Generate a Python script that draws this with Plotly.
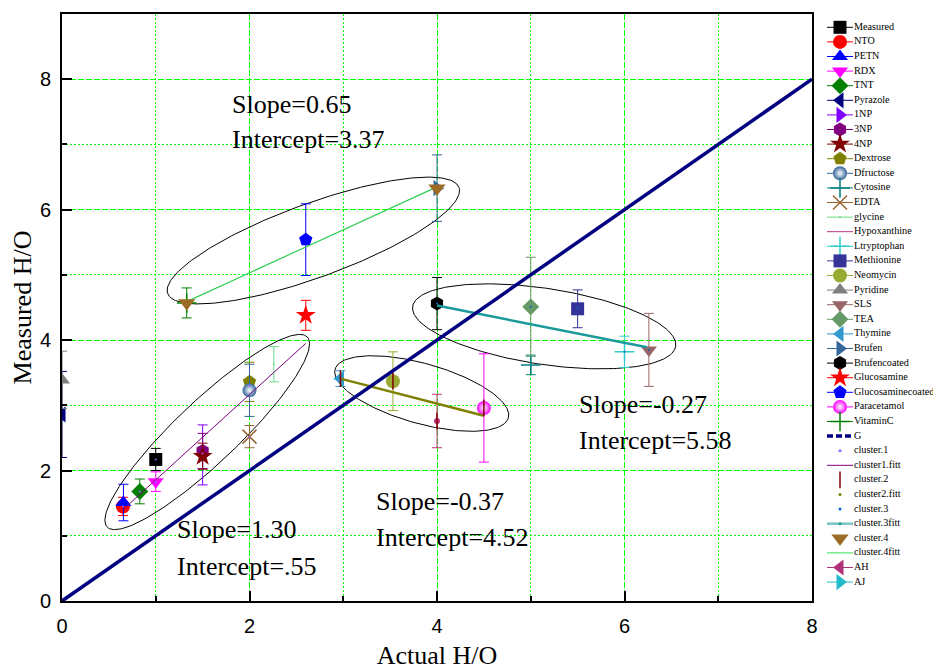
import numpy as np
import plotly.graph_objects as go

# ---------------- data ----------------
names = ["Measured", "NTO", "PETN", "RDX", "TNT", "Pyrazole", "1NP", "3NP", "4NP",
         "Dextrose", "Dfructose", "Cytosine", "EDTA", "glycine", "Hypoxanthine",
         "Ltryptophan", "Methionine", "Neomycin", "Pyridine", "SLS", "TEA", "Thymine",
         "Brufen", "Brufencoated", "Glucosamine", "Glucosaminecoated", "Paracetamol",
         "VitaminC"]
actual_ho = [1.00, 0.65, 0.655, 1.00, 0.83, 0.00, 1.50, 1.50, 1.50,
             2.00, 2.00, 5.00, 2.00, 2.26, 4.00,
             6.00, 5.50, 3.53, 0.00, 6.26, 5.00, 2.97,
             4.00, 4.00, 2.60, 2.60, 4.50,
             1.33]
measured_ho = [2.17, 1.45, 1.51, 1.83, 1.68, 2.86, 2.24, 2.30, 2.22,
               3.36, 3.23, 3.62, 2.52, 3.63, 2.76,
               3.82, 4.48, 3.37, 3.39, 3.85, 4.51, 3.41,
               6.33, 4.56, 4.38, 5.54, 2.96,
               4.57]
err_ho = [0.17, 0.14, 0.28, 0.15, 0.19, 0.66, 0.46, 0.27, 0.20,
          0.30, 0.40, 0.15, 0.17, 0.27, 0.41,
          0.24, 0.29, 0.45, 0.44, 0.56, 0.76, 0.12,
          0.51, 0.40, 0.23, 0.55, 0.83,
          0.23]

g_x = [0, 8]
g_y = [0, 8]

cluster1_x = [0.65, 0.83, 1.00, 1.00, 1.50, 2.00, 2.00]
cluster1_y = [1.45, 1.68, 1.83, 2.17, 2.26, 3.30, 2.52]
fit1_x = [0.65, 2.60]
fit1_y = [1.40, 3.95]

cluster2_x = [2.97, 3.53, 4.00, 4.50]
cluster2_y = [3.41, 3.37, 2.76, 2.96]
fit2_x = [2.97, 4.50]
fit2_y = [3.41, 2.84]

cluster3_x = [4.00, 5.00, 5.50, 6.00, 6.26]
cluster3_y = [4.56, 4.51, 4.48, 3.82, 3.85]
fit3_x = [4.00, 6.24]
fit3_y = [4.53, 3.89]

cluster4_x = [1.33, 4.00]
cluster4_y = [4.57, 6.33]
fit4_x = [1.33, 4.00]
fit4_y = [4.59, 6.35]

# ellipse outlines around clusters: centre (data), semi-axes (px), tilt (deg)
ell_cx = [1.549, 3.837, 5.143, 2.681]
ell_cy = [2.591, 3.181, 4.211, 5.527]
ell_a = [138, 90, 133, 155]
ell_b = [31, 30, 38, 37]
ell_ang = [43.5, -15.7, -8.6, 20.0]

ann_text = ["Slope=0.65", "Intercept=3.37", "Slope=1.30", "Intercept=.55",
            "Slope=-0.37", "Intercept=4.52", "Slope=-0.27", "Intercept=5.58"]
ann_x = [1.79, 1.79, 1.205, 1.205, 3.33, 3.33, 5.49, 5.49]
ann_y = [7.61, 7.07, 1.10, 0.53, 1.53, 0.97, 3.01, 2.46]

legend_labels = names + ["G", "cluster.1", "cluster1.fitt", "cluster.2", "cluster2.fitt",
                         "cluster.3", "cluster.3fitt", "cluster.4", "cluster.4fitt", "AH", "AJ"]

# ---------------- styles ----------------
style = {
    "Measured": ("square", "#000000", 13),
    "NTO": ("circle", "#FF0000", 14),
    "PETN": ("triangle-up", "#0000FF", 14),
    "RDX": ("triangle-down", "#FF00FF", 14),
    "TNT": ("diamond", "#008000", 13),
    "Pyrazole": ("triangle-left", "#000080", 14),
    "1NP": ("triangle-right", "#8000FF", 14),
    "3NP": ("hexagon", "#800080", 14),
    "4NP": ("star", "#800000", 15),
    "Dextrose": ("pentagon", "#808000", 14),
    "Dfructose": ("circle", "#336699", 14),
    "Cytosine": ("cross-thin", "#008080", 14),
    "EDTA": ("x-thin", "#996633", 14),
    "glycine": ("circle", "#66DD88", 2),
    "Hypoxanthine": ("circle", "#C0307A", 0),
    "Ltryptophan": ("cross-thin", "#33CCCC", 14),
    "Methionine": ("square", "#333399", 13),
    "Neomycin": ("circle", "#99AA33", 14),
    "Pyridine": ("triangle-up", "#808080", 14),
    "SLS": ("triangle-down", "#996666", 14),
    "TEA": ("diamond", "#669966", 13),
    "Thymine": ("triangle-left", "#3399CC", 14),
    "Brufen": ("triangle-right", "#336699", 14),
    "Brufencoated": ("hexagon", "#000000", 14),
    "Glucosamine": ("star", "#FF0000", 15),
    "Glucosaminecoated": ("pentagon", "#0000FF", 14),
    "Paracetamol": ("circle", "#FF00FF", 14),
    "VitaminC": ("cross-thin", "#008000", 14),
    "G": (None, "#000080", 0),
    "cluster.1": ("circle", "#9966FF", 3),
    "cluster1.fitt": (None, "#800080", 0),
    "cluster.2": ("line-ns", "#800000", 12),
    "cluster2.fitt": ("circle", "#808000", 3),
    "cluster.3": ("circle", "#0066CC", 3),
    "cluster.3fitt": ("circle", "#1A9A9A", 3),
    "cluster.4": ("triangle-down", "#9C6B26", 15),
    "cluster.4fitt": (None, "#33DD55", 0),
    "AH": ("triangle-left", "#B0307A", 14),
    "AJ": ("triangle-right", "#22BBCC", 14),
}
legend_has_line = {k: True for k in legend_labels}
for k in ["cluster.1", "cluster.2", "cluster2.fitt", "cluster.3", "cluster.4"]:
    legend_has_line[k] = False
sphere = {"Dfructose", "Paracetamol"}
thin = {"Cytosine", "EDTA", "Ltryptophan", "VitaminC", "cluster.2"}

SERIF = "Liberation Serif"
SANS = "Liberation Sans"

OFF = 8                      # page body margin in the browser
W, H = 941 - OFF, 670 - OFF
ML, MR, MT = 62 - OFF, 0, 14 - OFF
PLOT_W = 750
PLOT_H = 587
MB = H - MT - PLOT_H
PAPER_W = W - ML - MR
PAPER_H = H - MT - MB
SX = PLOT_W / 8.0
SY = PLOT_H / 9.0


def marker_dict(name, size=None):
    sym, col, sz = style[name]
    m = dict(symbol=sym, color=col, size=size if size is not None else sz,
             line=dict(width=0))
    if name in thin:
        m["line"] = dict(width=1.5, color=col)
    if name in sphere:
        m["gradient"] = dict(type="radial", color="#FFFFFF")
    return m


fig = go.Figure()

# ellipses
for cx, cy, a, b, ang in zip(ell_cx, ell_cy, ell_a, ell_b, ell_ang):
    t = np.linspace(0, 2 * np.pi, 240)
    th = np.deg2rad(ang)
    ex = cx + (a * np.cos(t) * np.cos(th) - b * np.sin(t) * np.sin(th)) / SX
    ey = cy + (a * np.cos(t) * np.sin(th) + b * np.sin(t) * np.cos(th)) / SY
    fig.add_trace(go.Scatter(x=ex, y=ey, mode="lines", line=dict(color="#000000", width=1),
                             hoverinfo="skip", showlegend=False))

# data points with error bars
for i, n in enumerate(names):
    fig.add_trace(go.Scatter(
        x=[actual_ho[i]], y=[measured_ho[i]], mode="markers", name=n,
        marker=marker_dict(n),
        error_y=dict(type="data", array=[err_ho[i]], color=style[n][1], thickness=1, width=5),
        showlegend=False))

# fit lines
fig.add_trace(go.Scatter(x=fit1_x, y=fit1_y, mode="lines", line=dict(color="#800080", width=1),
                         showlegend=False))
fig.add_trace(go.Scatter(x=fit2_x, y=fit2_y, mode="lines", line=dict(color="#808000", width=2.5),
                         showlegend=False))
fig.add_trace(go.Scatter(x=fit3_x, y=fit3_y, mode="lines", line=dict(color="#1A9A9A", width=2.5),
                         showlegend=False))
fig.add_trace(go.Scatter(x=fit4_x, y=fit4_y, mode="lines", line=dict(color="#33CC55", width=1.2),
                         showlegend=False))

# cluster markers
fig.add_trace(go.Scatter(x=cluster1_x, y=cluster1_y, mode="markers",
                         marker=marker_dict("cluster.1", 2), showlegend=False))
fig.add_trace(go.Scatter(x=cluster2_x, y=cluster2_y, mode="markers",
                         marker=marker_dict("cluster.2"), showlegend=False))
fig.add_trace(go.Scatter(x=cluster3_x, y=cluster3_y, mode="markers",
                         marker=marker_dict("cluster.3", 2), showlegend=False))
fig.add_trace(go.Scatter(x=cluster4_x, y=cluster4_y, mode="markers",
                         marker=marker_dict("cluster.4"), showlegend=False))

# G line
fig.add_trace(go.Scatter(x=g_x, y=g_y, mode="lines", line=dict(color="#000080", width=3.5),
                         showlegend=False))

# ---------------- custom legend (second axes in screen-pixel units) ----------------
LEG_X0 = 820
leg_y0, leg_dy = 27.3, 14.6
for i, lab in enumerate(legend_labels):
    yy = leg_y0 + leg_dy * i
    sym, col, sz = style[lab]
    if legend_has_line[lab]:
        lw = 1
        dash = "solid"
        lcol = col
        if lab == "G":
            lw, dash = 3.5, "6px,3px"
        if lab == "cluster.3fitt":
            lw, lcol = 2.5, "#7CC4C4"
        fig.add_trace(go.Scatter(x=[827, 853], y=[yy, yy], mode="lines", xaxis="x2", yaxis="y2",
                                 line=dict(color=lcol, width=lw, dash=dash),
                                 hoverinfo="skip", showlegend=False))
    if sym is not None and sz > 0:
        fig.add_trace(go.Scatter(x=[840], y=[yy], mode="markers", xaxis="x2", yaxis="y2",
                                 marker=marker_dict(lab), hoverinfo="skip", showlegend=False))
fig.add_trace(go.Scatter(x=[854] * len(legend_labels),
                         y=[leg_y0 + leg_dy * i for i in range(len(legend_labels))],
                         text=legend_labels, mode="text", textposition="middle right",
                         textfont=dict(family=SERIF, size=10.2, color="#000000"),
                         xaxis="x2", yaxis="y2", hoverinfo="skip", showlegend=False,
                         cliponaxis=False))

# annotations
for t, x, y in zip(ann_text, ann_x, ann_y):
    fig.add_annotation(x=x, y=y, text=t, showarrow=False, xanchor="left", yanchor="middle",
                       font=dict(family=SERIF, size=26, color="#000000"))

grid_col = "#00FF00"
axis_common = dict(
    showline=True, linewidth=2, linecolor="#000000", mirror=True,
    ticks="inside", ticklen=10, tickwidth=2, tickcolor="#000000",
    showgrid=True, gridcolor=grid_col, gridwidth=1, griddash="5px,3px",
    zeroline=False, automargin=False,
    tickfont=dict(family=SANS, size=20, color="#000000"),
    minor=dict(dtick=1, showgrid=True, gridcolor=grid_col, griddash="2px,2px", gridwidth=1,
               ticks="inside", ticklen=5, tickwidth=1.5, tickcolor="#000000"),
)

fig.update_layout(
    template="none",
    font=dict(family=SERIF, color="#000000"),
    width=W, height=H, autosize=False,
    margin=dict(l=ML, r=MR, t=MT, b=MB, pad=0),
    paper_bgcolor="#FFFFFF", plot_bgcolor="#FFFFFF",
    showlegend=False,
    xaxis=dict(domain=[0, PLOT_W / PAPER_W], range=[0, 8], tickvals=[0, 2, 4, 6, 8],
               title=dict(text="Actual H/O",
                          font=dict(family=SERIF, size=26, color="#000000"), standoff=11),
               ticklabelstandoff=6, **axis_common),
    yaxis=dict(domain=[0, 1], range=[0, 9], tickvals=[0, 2, 4, 6, 8],
               title=dict(text="Measured H/O",
                          font=dict(family=SERIF, size=26, color="#000000"), standoff=6),
               ticklabelstandoff=5, **axis_common),
    xaxis2=dict(domain=[(LEG_X0 - OFF - ML) / PAPER_W, 1], range=[LEG_X0, W + OFF],
                visible=False, anchor="y2", fixedrange=True),
    yaxis2=dict(domain=[0, 1], range=[MT + OFF + PAPER_H, MT + OFF], visible=False,
                anchor="x2", fixedrange=True),
)

fig.write_html("out.html")
